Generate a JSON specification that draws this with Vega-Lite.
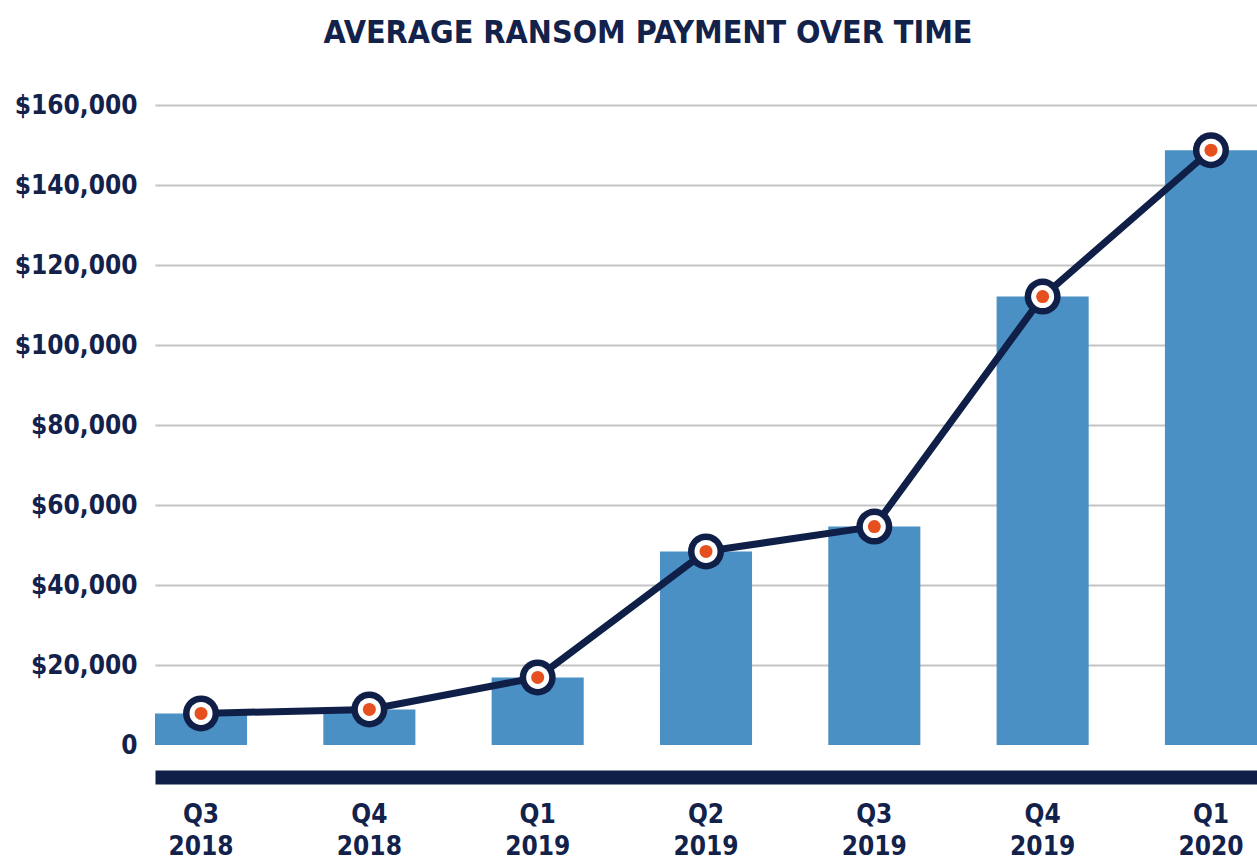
{
  "$schema": "https://vega.github.io/schema/vega-lite/v6.json",
  "autosize": "none",
  "width": 1102,
  "height": 640,
  "padding": {"left": 155, "top": 105, "right": 0, "bottom": 115},
  "background": "white",
  "config": {
    "view": {"stroke": null},
    "font": "DejaVu Sans Condensed"
  },
  "title": {
    "text": "AVERAGE RANSOM PAYMENT OVER TIME",
    "font": "DejaVu Sans Condensed",
    "fontSize": 32,
    "fontWeight": "bold",
    "color": "#13224b",
    "anchor": "middle",
    "dx": -58,
    "offset": 42
  },
  "data": {
    "values": [
      {"quarter": "Q3 2018", "payment": 7900},
      {"quarter": "Q4 2018", "payment": 8900},
      {"quarter": "Q1 2019", "payment": 16900},
      {"quarter": "Q2 2019", "payment": 48400},
      {"quarter": "Q3 2019", "payment": 54600},
      {"quarter": "Q4 2019", "payment": 112100},
      {"quarter": "Q1 2020", "payment": 148700}
    ]
  },
  "encoding": {
    "x": {
      "field": "quarter",
      "type": "nominal",
      "sort": null,
      "scale": {"paddingInner": 0.453, "paddingOuter": 0},
      "axis": {
        "title": null,
        "orient": "bottom",
        "offset": 32,
        "domainColor": "#0f1f48",
        "domainWidth": 14,
        "domainCap": "butt",
        "ticks": false,
        "labelAngle": 0,
        "labelFont": "DejaVu Sans Condensed",
        "labelFontSize": 26,
        "labelFontWeight": "bold",
        "labelColor": "#13224b",
        "labelPadding": 24,
        "labelLineHeight": 32,
        "labelExpr": "split(datum.label, ' ')"
      }
    },
    "y": {
      "field": "payment",
      "type": "quantitative",
      "scale": {"domain": [0, 160000], "nice": false},
      "axis": {
        "title": null,
        "values": [0, 20000, 40000, 60000, 80000, 100000, 120000, 140000, 160000],
        "domain": false,
        "ticks": false,
        "grid": true,
        "gridColor": "#c4c4c4",
        "gridWidth": 2,
        "gridOpacity": {"condition": {"test": "datum.value === 0", "value": 0}, "value": 1},
        "labelFont": "DejaVu Sans Condensed",
        "labelFontSize": 26,
        "labelFontWeight": "bold",
        "labelColor": "#13224b",
        "labelPadding": 18,
        "labelExpr": "datum.value === 0 ? '0' : '$' + format(datum.value, ',')"
      }
    }
  },
  "layer": [
    {"mark": {"type": "bar", "color": "#4a90c4"}},
    {"mark": {"type": "line", "color": "#0f1f48", "strokeWidth": 7}},
    {"mark": {"type": "point", "shape": "circle", "filled": true, "color": "#0f1f48", "size": 1296, "opacity": 1}},
    {"mark": {"type": "point", "shape": "circle", "filled": true, "color": "#ffffff", "size": 529, "opacity": 1}},
    {"mark": {"type": "point", "shape": "circle", "filled": true, "color": "#e6501e", "size": 169, "opacity": 1}}
  ]
}
